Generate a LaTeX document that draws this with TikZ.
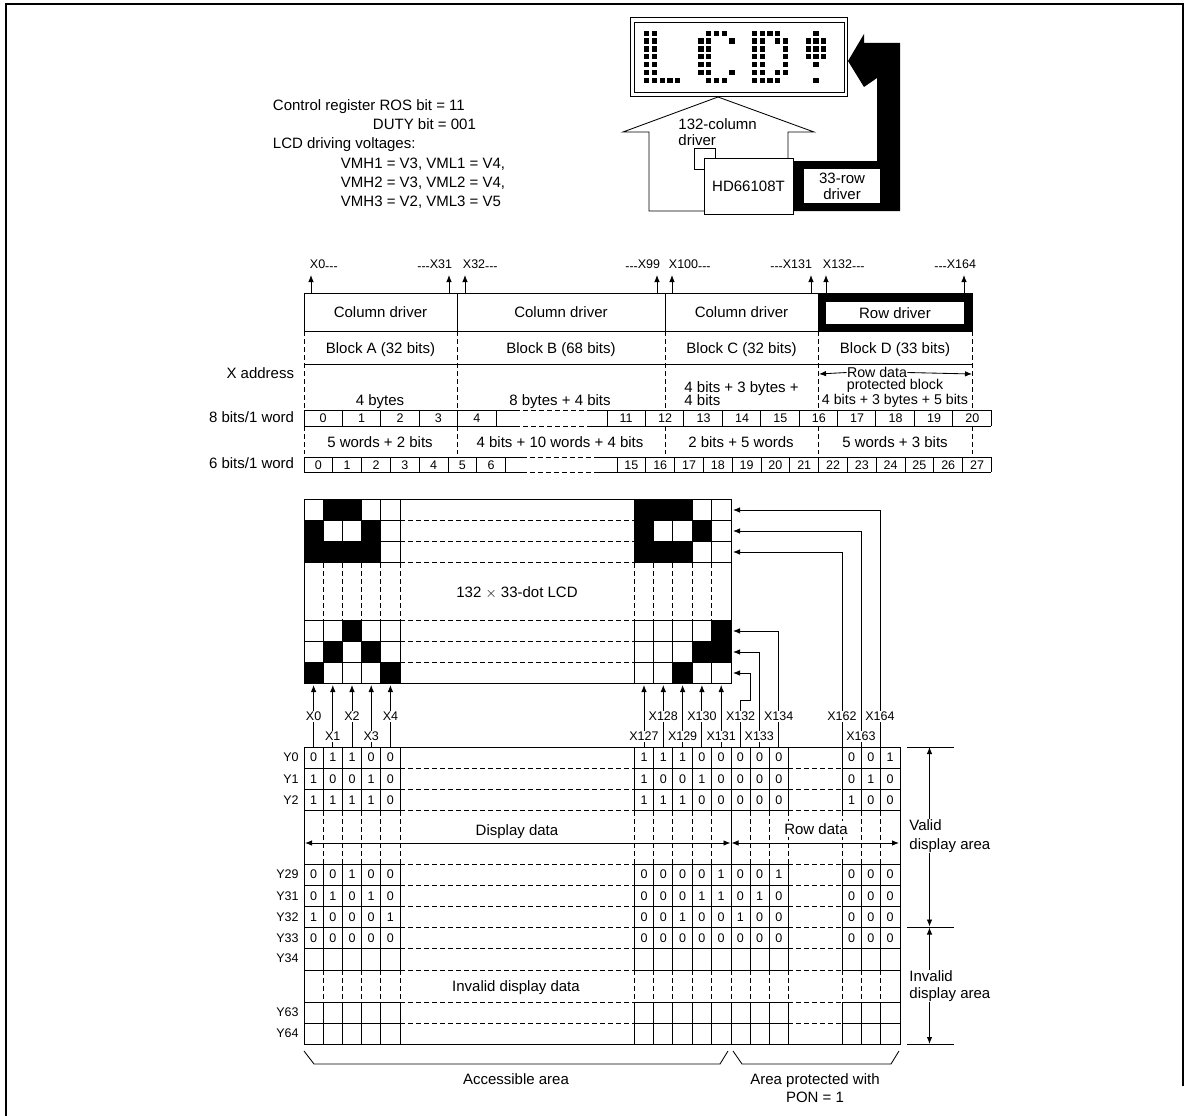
\documentclass[tikz,border=0pt]{standalone}
\usepackage{fontspec}
\setmainfont{Liberation Sans}
\usepackage{xcolor}
\usetikzlibrary{arrows.meta,positioning}
\newcommand{\lowdash}{\raisebox{-2.5pt}{-{}-{}-}}

\begin{document}
\begin{tikzpicture}[
  x=1pt, y=-1pt,
  line width=0.85pt,
  font=\fontsize{15}{17}\selectfont,
  word/.style={inner sep=0.5pt, text height=13pt, text depth=2.2pt},
  wordleft/.style={word, anchor=west},
  wordright/.style={word, anchor=east},
  tight/.style={font=\fontsize{14.2}{16}\selectfont, inner sep=0pt},
  twoline/.style={inner sep=1pt, fill=white, align=left, anchor=west},
  smallfont/.style={font=\fontsize{12.5}{14}\selectfont},
  bit/.style={smallfont, inner sep=0pt},
  addr/.style={smallfont, inner sep=1pt, fill=white},
  rowname/.style={smallfont, inner sep=0pt, anchor=east},
  edgeleft/.style={smallfont, inner sep=0.5pt, anchor=west},
  edgeright/.style={smallfont, inner sep=0.5pt, anchor=east},
  driver/.style={draw, minimum height=38pt, inner sep=0pt},
  griddash/.style={dash pattern=on 5pt off 3pt},
  flow/.style={-{Latex[length=7pt,width=5.5pt]}},
  both/.style={{Latex[length=7pt,width=5.5pt]}-{Latex[length=7pt,width=5.5pt]}}
]
\useasboundingbox (0,0) rectangle (1187,1116);
\draw[line width=2pt] (6,1116) -- (6,4) -- (1183,4) -- (1183,1086);

\draw (630,17.5) rectangle (847,96);
\draw (634,22) rectangle (844,92);
\foreach \px/\rowlist in {646.7/{1,2,3,4,5,6,7}, 654.3/{1,2,3,4,5,6,7}, 662.3/{7}, 670/{7}, 677.7/{7},
    701/{2,3,4,5,6}, 708.7/{1,2,3,4,5,6,7}, 716.3/{1,7}, 724.3/{1,7}, 732/{2,6},
    754.7/{1,2,3,4,5,6,7}, 762.3/{1,2,3,4,5,6,7}, 770/{1,7}, 777.7/{1,2,6,7}, 785.3/{2,3,4,5,6},
    808.3/{2,3,4}, 816/{1,2,3,4,5,7}, 823.7/{2,3,4}}
  \foreach \r in \rowlist
    \fill ({\px-2.7},{33.3+7.83*(\r-1)-2.7}) rectangle +(5.4,5.4);

\draw[fill=white] (718,97) -- (814,132) -- (788,132) -- (788,211) -- (649,211) -- (649,132) -- (623,132) -- cycle;
\node[inner sep=0pt, align=left, anchor=west, font=\fontsize{15}{16}\selectfont] (coltext) at (678,132) {132-column\\driver};
\draw (694,148) rectangle (715,169);
\fill (793,161) -- (877,161) -- (877,78) -- (864,87) -- (848,61) -- (864,34) -- (864,43) -- (900,43) -- (900,211) -- (793,211) -- cycle;
\node[draw, fill=white, minimum width=89pt, minimum height=56pt, inner sep=0pt] (chip) at (748.5,186) {HD66108T};
\node[fill=white, minimum width=76pt, minimum height=34pt, inner sep=0pt, align=center, font=\fontsize{15}{16}\selectfont] (rowbox) at (842,186) {33-row\\driver};

\node[wordleft] (reg1) at (272,105) {Control register ROS bit = 11};
\node[wordleft] (reg2) at (372,124) {DUTY bit = 001};
\node[wordleft] (reg3) at (272,143) {LCD driving voltages:};
\node[wordleft] (reg4) at (340,163) {VMH1 = V3, VML1 = V4,};
\node[wordleft] (reg5) at (340,182) {VMH2 = V3, VML2 = V4,};
\node[wordleft] (reg6) at (340,201) {VMH3 = V2, VML3 = V5};

\node[driver, minimum width=153pt] (driverA) at (380.5,312) {Column driver};
\node[driver, minimum width=208pt] (driverB) at (561,312) {Column driver};
\node[driver, minimum width=153pt] (driverC) at (741.5,312) {Column driver};
\node[driver, minimum width=154pt, fill=black] (driverD) at (895,312) {};
\node[fill=white, minimum width=138pt, minimum height=22pt, inner sep=0pt] (rowdriver) at (895,313) {Row driver};

\foreach \px/\pname in {311/a, 449/b, 465/c, 657/d, 672/e, 811/f, 826/g, 964/h} {
  \coordinate (top\pname) at (\px,293);
  \coordinate (tip\pname) at (\px,275);
  \draw[flow] (top\pname) -- (tip\pname);
}
\node[edgeleft] (x0) at (309,265) {X0\lowdash};
\node[edgeright] (x31) at (453,265) {\lowdash X31};
\node[edgeleft] (x32) at (462,265) {X32\lowdash};
\node[edgeright] (x99) at (661,265) {\lowdash X99};
\node[edgeleft] (x100) at (668,265) {X100\lowdash};
\node[edgeright] (x131) at (813,265) {\lowdash X131};
\node[edgeleft] (x132) at (822,265) {X132\lowdash};
\node[edgeright] (x164) at (977,265) {\lowdash X164};

\draw (304,364) -- (972,364);
\foreach \vx in {304,457,665,818,972}
  \draw[griddash] (\vx,331) -- (\vx,410) (\vx,426) -- (\vx,454);

\node[word] (blockA) at (380.5,348) {Block A (32 bits)};
\node[word] (blockB) at (561,348) {Block B (68 bits)};
\node[word] (blockC) at (741.5,348) {Block C (32 bits)};
\node[word] (blockD) at (895,348) {Block D (33 bits)};
\node[wordright] (xaddress) at (295,373) {X address};
\node[word] (bytesA) at (380,400) {4 bytes};
\node[word] (bytesB) at (560,400) {8 bytes + 4 bits};
\node[inner sep=0pt, align=left, anchor=west, font=\fontsize{15}{15}\selectfont] (bytesC) at (684,394) {4 bits + 3 bytes +\\[-2pt]4 bits};
\node[tight] (rowdata) at (877,372.5) {Row data};
\coordinate (rowleft) at (819,374);
\coordinate (rowright) at (972,374);
\draw[flow] (rowdata.west) -- (rowleft);
\draw[flow] (rowdata.east) -- (rowright);
\node[tight] (protect) at (895,385.5) {protected block};
\node[tight] (bytesD) at (895,400.5) {4 bits + 3 bytes + 5 bits};
\node[word] (wordsA) at (380,442) {5 words + 2 bits};
\node[word] (wordsB) at (560,442) {4 bits + 10 words + 4 bits};
\node[word] (wordsC) at (741,442) {2 bits + 5 words};
\node[word] (wordsD) at (895,442) {5 words + 3 bits};
\node[wordright] (eightbit) at (295,417) {8 bits/1 word};
\node[wordright] (sixbit) at (295,463) {6 bits/1 word};

\draw (304,410) -- (515,410) (304,426) -- (515,426) (588,410) -- (991,410) (588,426) -- (991,426);
\draw[griddash] (515,410) -- (588,410) (515,426) -- (588,426);
\foreach \vx in {304,342.4,380.8,419.2,457.6,496,607,645.4,683.8,722.2,760.6,799,837.4,875.8,914.2,952.6,991}
  \draw (\vx,410) -- (\vx,426);
\foreach \t/\px in {0/323,1/361.6,2/400,3/438.4,4/476.8,11/626,12/665,13/703.6,14/742,15/780.4,16/818.8,17/857,18/895.6,19/934,20/972.4}
  \node[bit] (byte\t) at (\px,418.5) {\t};

\draw (304,457) -- (522,457) (304,472) -- (522,472) (597,457) -- (991,457) (597,472) -- (991,472);
\draw[griddash] (522,457) -- (597,457) (522,472) -- (597,472);
\foreach \vx in {304,332.8,361.6,390.4,419.2,448,476.8,505.6,617,645.8,674.6,703.4,732.2,761,789.8,818.6,847.4,876.2,905,933.8,962.6,991.4}
  \draw (\vx,457) -- (\vx,472);
\foreach \t/\px in {0/318.4,1/347.2,2/376,3/404.8,4/433.6,5/462.4,6/491.2,15/631.4,16/660.2,17/689,18/717.8,19/746.6,20/775.4,21/804.2,22/833,23/861.8,24/890.6,25/919.4,26/948.2,27/977}
  \node[bit] (six\t) at (\px,465) {\t};

\foreach \ox/\oy/\cells in {304/499/{1/0,2/0,0/1,3/1,0/2,1/2,2/2,3/2}, 304/620/{2/0,1/1,3/1,0/2,4/2},
    634.3/499/{0/0,1/0,2/0,0/1,3/1,0/2,1/2,2/2}, 634.3/620/{4/0,3/1,4/1,2/2}}
  \foreach \c/\r in \cells
    \fill ({\ox+19.35*\c},{\oy+21.2*\r}) rectangle +(19.35,21.2);
\draw (304,499) rectangle (731,683.6);
\foreach \ly in {520.2,541.4,562.6,620,641.2,662.4} {
  \draw (304,\ly) -- (400.3,\ly) (634.3,\ly) -- (731,\ly);
  \draw[griddash] (400.3,\ly) -- (634.3,\ly);
}
\foreach \vx in {323.2,342.4,361.6,380.8,400.3,634.3,653.6,672.9,692.2,711.6} {
  \draw (\vx,499) -- (\vx,562.6) (\vx,620) -- (\vx,683.6);
  \draw[griddash] (\vx,562.6) -- (\vx,620);
}
\node[word] (lcd) at (517,592) {132 $\times$ 33-dot LCD};

\foreach \px/\pname in {313.6/a, 332.8/b, 352/c, 371.2/d, 390.4/e, 644/f, 663.3/g, 682.6/h, 701.9/i, 721.2/j} {
  \coordinate (cell\pname) at (\px,747);
  \coordinate (dot\pname) at (\px,685);
  \draw[flow] (cell\pname) -- (dot\pname);
}
\coordinate (cell132) at (740.6,747);
\coordinate (bend132) at (750,700);
\coordinate (dot132) at (733,673);
\draw[flow] (cell132) |- (bend132) |- (dot132);
\foreach \px/\py/\pname in {759.3/652/133, 778.7/631/134, 842/552/162, 861/531/163, 880/510/164} {
  \coordinate (cell\pname) at (\px,747);
  \coordinate (dot\pname) at (733,\py);
  \draw[flow] (cell\pname) |- (dot\pname);
}
\foreach \t/\px in {0/313.6,2/352,4/390.4,128/663.3,130/701.9,132/740.6,134/778.7,162/842,164/880}
  \node[addr] (xa\t) at (\px,716.5) {X\t};
\foreach \t/\px in {1/332.8,3/371.2,127/644,129/682.6,131/721.2,133/759.3,163/861}
  \node[addr] (xa\t) at (\px,736.5) {X\t};

\draw (304,747) rectangle (900,1044);
\foreach \ly in {768.2,789.4,810.5,864,885.2,906.4,927.5,948.7,970,1002,1023} {
  \draw (304,\ly) -- (400.3,\ly) (634.3,\ly) -- (788.4,\ly) (842.3,\ly) -- (900,\ly);
  \draw[griddash] (400.3,\ly) -- (634.3,\ly) (788.4,\ly) -- (842.3,\ly);
}
\foreach \vx in {323.2,342.4,361.6,380.8,400.3,634.3,653.6,672.9,692.2,711.6,731,750.2,769.4,788.4,842.3,861.5,880.7} {
  \draw (\vx,747) -- (\vx,810.5) (\vx,864) -- (\vx,970) (\vx,1002) -- (\vx,1044);
  \draw[griddash] (\vx,970) -- (\vx,1002);
}
\foreach \vx in {323.2,342.4,361.6,380.8,400.3,634.3,653.6,672.9,692.2,711.6,750.2,769.4,788.4,842.3,861.5,880.7}
  \draw[griddash] (\vx,810.5) -- (\vx,864);
\draw (731,810.5) -- (731,864);

\foreach \py/\yname/\lbits/\rbits/\ebits in {
    757.6/Y0/{0,1,1,0,0}/{1,1,1,0,0,0,0,0}/{0,0,1},
    778.8/Y1/{1,0,0,1,0}/{1,0,0,1,0,0,0,0}/{0,1,0},
    800/Y2/{1,1,1,1,0}/{1,1,1,0,0,0,0,0}/{1,0,0},
    874.6/Y29/{0,0,1,0,0}/{0,0,0,0,1,0,0,1}/{0,0,0},
    895.8/Y31/{0,1,0,1,0}/{0,0,0,1,1,0,1,0}/{0,0,0},
    917/Y32/{1,0,0,0,1}/{0,0,1,0,0,1,0,0}/{0,0,0},
    938/Y33/{0,0,0,0,0}/{0,0,0,0,0,0,0,0}/{0,0,0}} {
  \node[rowname] (\yname) at (299,\py) {\yname};
  \foreach \b [count=\i] in \lbits
    \node[bit] (\yname l\i) at ({294.4+19.2*\i},\py) {\b};
  \foreach \b [count=\i] in \rbits
    \node[bit] (\yname r\i) at ({624.7+19.28*\i},\py) {\b};
  \foreach \b [count=\i] in \ebits
    \node[bit] (\yname e\i) at ({832.4+19.2*\i},\py) {\b};
}
\node[rowname] (Y34) at (299,958) {Y34};
\node[rowname] (Y63) at (299,1012) {Y63};
\node[rowname] (Y64) at (299,1033) {Y64};

\coordinate (dleft) at (305,843);
\coordinate (dmid) at (730.5,843);
\coordinate (rmid) at (731.5,843);
\coordinate (rright) at (899,843);
\draw[both] (dleft) -- (dmid);
\draw[both] (rmid) -- (rright);
\node[word] (display) at (517,830) {Display data};
\node[word, fill=white] (rowtext) at (816,829) {Row data};
\node[word] (invalid) at (516,986) {Invalid display data};

\draw (907,747) -- (954,747) (907,927) -- (954,927) (907,1044) -- (954,1044);
\coordinate (vtop) at (929.5,747);
\coordinate (vbot) at (929.5,926.5);
\coordinate (itop) at (929.5,927.5);
\coordinate (ibot) at (929.5,1044);
\draw[both] (vtop) -- (vbot);
\draw[both] (itop) -- (ibot);
\node[twoline, font=\fontsize{15}{19}\selectfont] (valid) at (908,836) {Valid\\display area};
\node[twoline, font=\fontsize{15}{17}\selectfont] (invalidarea) at (908,986) {Invalid\\display area};

\draw (304,1051) -- (314,1064) -- (720,1064) -- (728,1051);
\draw (733,1051) -- (742,1064) -- (891,1064) -- (899,1051);
\node[word] (access) at (516,1079) {Accessible area};
\node[inner sep=0pt, align=center, font=\fontsize{15}{18}\selectfont] (protected) at (815,1088.5) {Area protected with\\PON = 1};
\end{tikzpicture}
\end{document}
